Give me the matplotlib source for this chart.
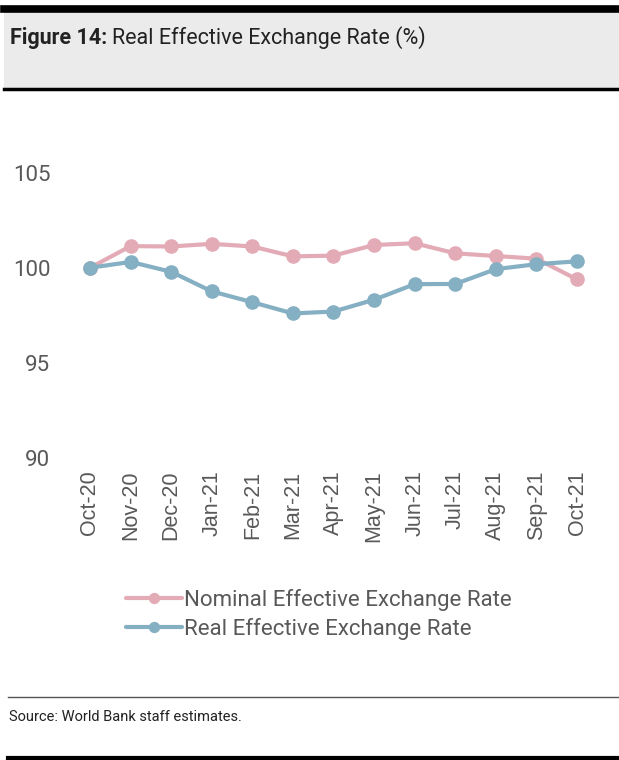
import matplotlib.pyplot as plt
from matplotlib.patches import Rectangle
from matplotlib.lines import Line2D

months = ['Oct-20', 'Nov-20', 'Dec-20', 'Jan-21', 'Feb-21', 'Mar-21', 'Apr-21',
          'May-21', 'Jun-21', 'Jul-21', 'Aug-21', 'Sep-21', 'Oct-21']
nominal = [100.0, 101.14, 101.12, 101.26, 101.12, 100.6, 100.64,
           101.2, 101.29, 100.76, 100.62, 100.48, 99.39]
real = [100.0, 100.31, 99.79, 98.76, 98.19, 97.6, 97.7,
        98.32, 99.14, 99.15, 99.93, 100.19, 100.34]

pink = '#E3ABB6'
blue = '#85AFC2'
grey_text = '#595959'

plt.rcParams['font.family'] = ['Roboto', 'DejaVu Sans']

W, H = 619, 760
fig = plt.figure(figsize=(W / 100, H / 100), dpi=100)

# header band
fig.patches.append(Rectangle((4 / W, 1 - 88 / H), 1, 76 / H, transform=fig.transFigure,
                             facecolor='#EBEBEB', edgecolor='none'))
fig.add_artist(Line2D([4 / W, 1], [1 - 9 / H] * 2, color='black', lw=5.5))
fig.add_artist(Line2D([4 / W, 1], [1 - 88.5 / H] * 2, color='black', lw=2.5))
t1 = fig.text(10 / W, 1 - 38 / H, 'Figure 14:', fontsize=15.5, fontweight='bold',
              color='#222222', va='center', ha='left')
fig.canvas.draw()
bb = t1.get_window_extent()
fig.text((bb.x1 + 5) / W, 1 - 38 / H, 'Real Effective Exchange Rate (%)', fontsize=15.5,
         color='#222222', va='center', ha='left')

# footer
fig.add_artist(Line2D([8 / W, 1], [1 - 697 / H] * 2, color='#555555', lw=1.0))
fig.text(9 / W, 1 - 717 / H, 'Source: World Bank staff estimates.', fontsize=10.5,
         color='#222222', va='center', ha='left')
fig.add_artist(Line2D([8 / W, 1], [1 - 758 / H] * 2, color='black', lw=3))

# chart
left = 69.7 / W
width = (597.3 - 69.7) / W
bottom = 1 - 458 / H
height = (458 - 172.7) / H
ax = fig.add_axes([left, bottom, width, height])

x = list(range(len(months)))
ax.plot(x, nominal, color=pink, lw=3, marker='o', markersize=9.5,
        label='Nominal Effective Exchange Rate', solid_capstyle='round')
ax.plot(x, real, color=blue, lw=3, marker='o', markersize=9.5,
        label='Real Effective Exchange Rate', solid_capstyle='round')

ax.set_xlim(-0.5, len(months) - 0.5)
ax.set_ylim(90, 105)
ax.set_yticks([90, 95, 100, 105])
ax.set_xticks(x)
ax.set_xticklabels(months, rotation=90, fontsize=15.5, color=grey_text,
                   family=['Liberation Sans', 'DejaVu Sans'])
ax.tick_params(axis='y', labelsize=16, labelcolor=grey_text, length=0, pad=14)
ax.tick_params(axis='x', length=0, pad=9)
for s in ax.spines.values():
    s.set_visible(False)
ax.patch.set_alpha(0)

fig.legend(loc='upper left', bbox_to_anchor=(126 / W, 1 - 589 / H), frameon=False,
           fontsize=16, labelcolor=grey_text, handlelength=2.5, handletextpad=0.1,
           labelspacing=0.3, borderaxespad=0, borderpad=0, markerscale=0.75)

fig.savefig('out.png', dpi=100)
